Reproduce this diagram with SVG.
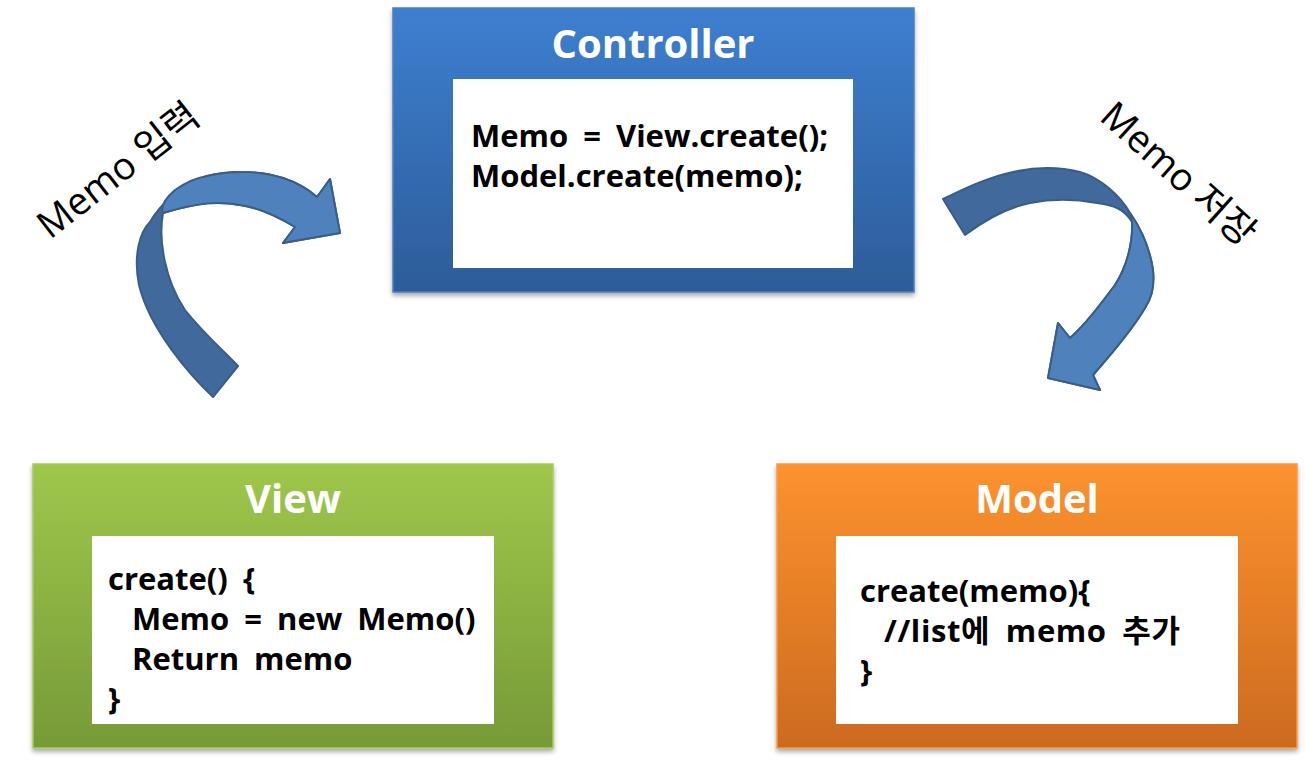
<svg xmlns="http://www.w3.org/2000/svg" width="1305" height="761" viewBox="0 0 1305 761">
<defs>
<linearGradient id="gBlue" x1="0" y1="0" x2="0" y2="1"><stop offset="0" stop-color="#3d7fd0"/><stop offset="1" stop-color="#2d5c99"/></linearGradient>
<linearGradient id="gGreen" x1="0" y1="0" x2="0" y2="1"><stop offset="0" stop-color="#9fc74b"/><stop offset="1" stop-color="#779a38"/></linearGradient>
<linearGradient id="gOrange" x1="0" y1="0" x2="0" y2="1"><stop offset="0" stop-color="#fd922e"/><stop offset="1" stop-color="#cc6a1f"/></linearGradient>
<filter id="sh" x="-5%" y="-5%" width="110%" height="115%"><feGaussianBlur in="SourceAlpha" stdDeviation="2.5"/><feOffset dx="0" dy="3" result="b"/><feComponentTransfer><feFuncA type="linear" slope="0.35"/></feComponentTransfer><feMerge><feMergeNode/><feMergeNode in="SourceGraphic"/></feMerge></filter>
</defs>
<style>
.title{font-family:"Open Sans","Noto Sans CJK KR",sans-serif;font-weight:bold;font-size:40px;fill:#ffffff;text-anchor:middle}
.code{font-family:"Open Sans","Noto Sans CJK KR",sans-serif;font-weight:bold;font-size:31px;fill:#000000;word-spacing:7px}
.lbl{font-family:"Open Sans","Noto Sans CJK KR",sans-serif;font-size:38px;fill:#000000}
.inner{fill:#ffffff}
.arrowDark{fill:#41699b;stroke:#385d8a;stroke-width:2;stroke-linejoin:round}
.arrowLight{fill:#4f81bd;stroke:#385d8a;stroke-width:2;stroke-linejoin:round}
</style>
<rect width="1305" height="761" fill="#ffffff"/>

<g id="controller">
<rect x="393" y="8" width="521" height="284" fill="url(#gBlue)" stroke="#4a80c4" stroke-width="1.5" filter="url(#sh)"/>
<rect class="inner" x="453" y="79" width="400" height="189"/>
<text class="title" x="653" y="58">Controller</text>
<text class="code" x="471" y="147">Memo = View.create();</text>
<text class="code" x="471" y="187">Model.create(memo);</text>
</g>

<g id="view">
<rect x="33" y="464" width="520" height="284" fill="url(#gGreen)" stroke="#a6cc5a" stroke-width="1.5" filter="url(#sh)"/>
<rect class="inner" x="92" y="536" width="402" height="188"/>
<text class="title" x="293" y="513">View</text>
<text class="code" x="108" y="590">create() {</text>
<text class="code" x="132" y="630">Memo = new Memo()</text>
<text class="code" x="132" y="670">Return memo</text>
<text class="code" x="108" y="710">}</text>
</g>

<g id="model">
<rect x="777" y="464" width="520" height="284" fill="url(#gOrange)" stroke="#f89a45" stroke-width="1.5" filter="url(#sh)"/>
<rect class="inner" x="836" y="536" width="402" height="188"/>
<text class="title" x="1037" y="513">Model</text>
<text class="code" x="860" y="602">create(memo){</text>
<text class="code" x="884" y="642" textLength="296" lengthAdjust="spacing">//list에 memo 추가</text>
<text class="code" x="860" y="682">}</text>
</g>

<g id="connectors">
<g id="arrow-input">
<path class="arrowDark" d="M213,397 C190,375 150,330 139,285 C133,255 140,232 150,222 C160,205 175,190 207,176 C235,169 265,172 283,178 C298,183 308,189 317,197 L330,179 L340,233 L283,243 L295,227 C275,215 255,207 240,205 C220,201 200,202 163,213 C158,240 165,280 185,310 C205,335 225,352 238,366 Z"/>
<path class="arrowLight" d="M163,213 C160,205 168,196 175,190 C185,183 195,178 207,176 C235,169 265,172 283,178 C298,183 308,189 317,197 L330,179 L340,233 L283,243 L295,227 C275,215 255,207 240,205 C220,201 200,202 163,213 Z"/>
<text class="lbl" x="50" y="240" transform="rotate(-38 50 240)">Memo 입력</text>
</g>
<g id="arrow-save">
<path class="arrowDark" d="M943,199 C960,191 985,178 1013,172 C1040,166 1060,167 1080,172 C1100,178 1120,195 1130,213 C1142,230 1150,250 1153,270 C1155,290 1150,300 1145,308 C1135,325 1115,350 1093,375 L1100,390 L1048,378 L1058,323 L1070,338 C1085,325 1100,305 1115,285 C1128,265 1133,240 1132,222 C1125,210 1115,205 1097,203 C1075,199 1050,199 1030,203 C1005,208 985,220 965,235 Z"/>
<path class="arrowLight" d="M1130,213 C1142,230 1150,250 1153,270 C1155,290 1150,300 1145,308 C1135,325 1115,350 1093,375 L1100,390 L1048,378 L1058,323 L1070,338 C1085,325 1100,305 1115,285 C1128,265 1133,240 1132,222 C1131,218 1131,216 1130,213 Z"/>
<text class="lbl" x="1098" y="119" transform="rotate(42 1098 119)">Memo 저장</text>
</g>
</g>
</svg>
